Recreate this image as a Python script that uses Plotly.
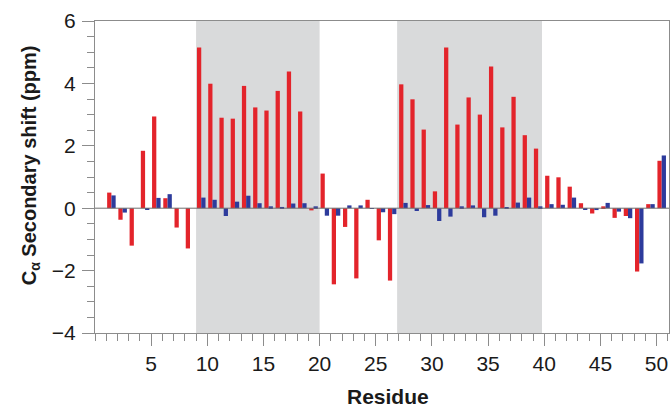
import plotly.graph_objects as go

# Residue numbers and C-alpha secondary shifts (ppm)
residues = list(range(2, 52))
shift_red = [0.50, -0.37, -1.20, 1.84, 2.94, 0.32, -0.62, -1.29, 5.15, 3.99,
             2.90, 2.87, 3.92, 3.23, 3.13, 3.76, 4.38, 3.10, -0.07, 1.11,
             -2.44, -0.60, -2.25, 0.27, -1.03, -2.32, 3.97, 3.49, 2.52, 0.54,
             5.15, 2.68, 3.55, 3.00, 4.54, 2.59, 3.57, 2.34, 1.91, 1.04,
             0.99, 0.69, 0.16, -0.17, 0.06, -0.31, -0.25, -2.03, 0.13, 1.52]
shift_blue = [0.41, -0.14, 0.00, -0.05, 0.33, 0.45, 0.00, 0.00, 0.34, 0.27,
              -0.25, 0.21, 0.40, 0.16, 0.06, 0.04, 0.15, 0.16, 0.06, -0.24,
              -0.24, 0.09, 0.09, -0.02, -0.13, -0.19, 0.17, -0.09, 0.10, -0.41,
              -0.27, 0.06, 0.09, -0.29, -0.24, 0.01, 0.18, 0.34, 0.06, 0.13,
              0.11, 0.34, -0.04, -0.06, 0.17, -0.11, -0.32, -1.77, 0.13, 1.69]
helix_spans = [(9.0, 20.0), (26.9, 39.8)]
x_ticks = [5, 10, 15, 20, 25, 30, 35, 40, 45, 50]
y_ticks = [-4, -2, 0, 2, 4, 6]

RED = "#e3242b"
BLUE = "#2d3b9c"
AXIS = "#8c8c8c"
FONT = "Liberation Sans, Arial, sans-serif"

fig = go.Figure()
fig.add_trace(go.Bar(x=residues, y=shift_red, width=0.38, offset=-0.92,
                     marker=dict(color=RED, line=dict(width=0))))
fig.add_trace(go.Bar(x=residues, y=shift_blue, width=0.38, offset=-0.54,
                     marker=dict(color=BLUE, line=dict(width=0))))

for x0, x1 in helix_spans:
    fig.add_vrect(x0=x0, x1=x1, fillcolor="#d9dadb", line_width=0, layer="below")

fig.add_hline(y=0, line=dict(color="#6e6e6e", width=1))

fig.add_annotation(text="<b>C<sub>α</sub> Secondary shift (ppm)</b>",
                   xref="paper", yref="paper", x=-0.113, y=0.538,
                   textangle=-90, showarrow=False, xanchor="center", yanchor="middle",
                   font=dict(family=FONT, size=20, color="#1a1a1a"))
fig.add_annotation(text="<b>Residue</b>", xref="paper", yref="paper",
                   x=(388 - 95) / 574, y=-(396 - 333) / 312,
                   showarrow=False, xanchor="center", yanchor="middle",
                   font=dict(family=FONT, size=21, color="#1a1a1a"))

fig.update_layout(
    width=670, height=408,
    margin=dict(l=95, r=1, t=21, b=75),
    plot_bgcolor="white", paper_bgcolor="white",
    showlegend=False, barmode="overlay",
    font=dict(family=FONT, size=21, color="#1a1a1a"),
)
fig.update_xaxes(range=[0, 51.11], tickvals=x_ticks, ticks="outside", ticklen=12,
                 tickwidth=1, tickcolor=AXIS, showline=True, linecolor=AXIS,
                 linewidth=1, mirror=True, showgrid=False, zeroline=False,
                 minor=dict(dtick=1, tick0=0, ticks="outside", ticklen=7,
                            tickcolor=AXIS, showgrid=False),
                 tickfont=dict(size=21))
fig.update_yaxes(range=[-4, 6], tickvals=y_ticks, ticks="outside", ticklen=12,
                 tickwidth=1, tickcolor=AXIS, showline=True, linecolor=AXIS,
                 linewidth=1, mirror=True, showgrid=False, zeroline=False,
                 minor=dict(dtick=0.5, tick0=0, ticks="outside", ticklen=7,
                            tickcolor=AXIS, showgrid=False),
                 tickfont=dict(size=21), ticklabelstandoff=2)

fig.write_html("out.html")
